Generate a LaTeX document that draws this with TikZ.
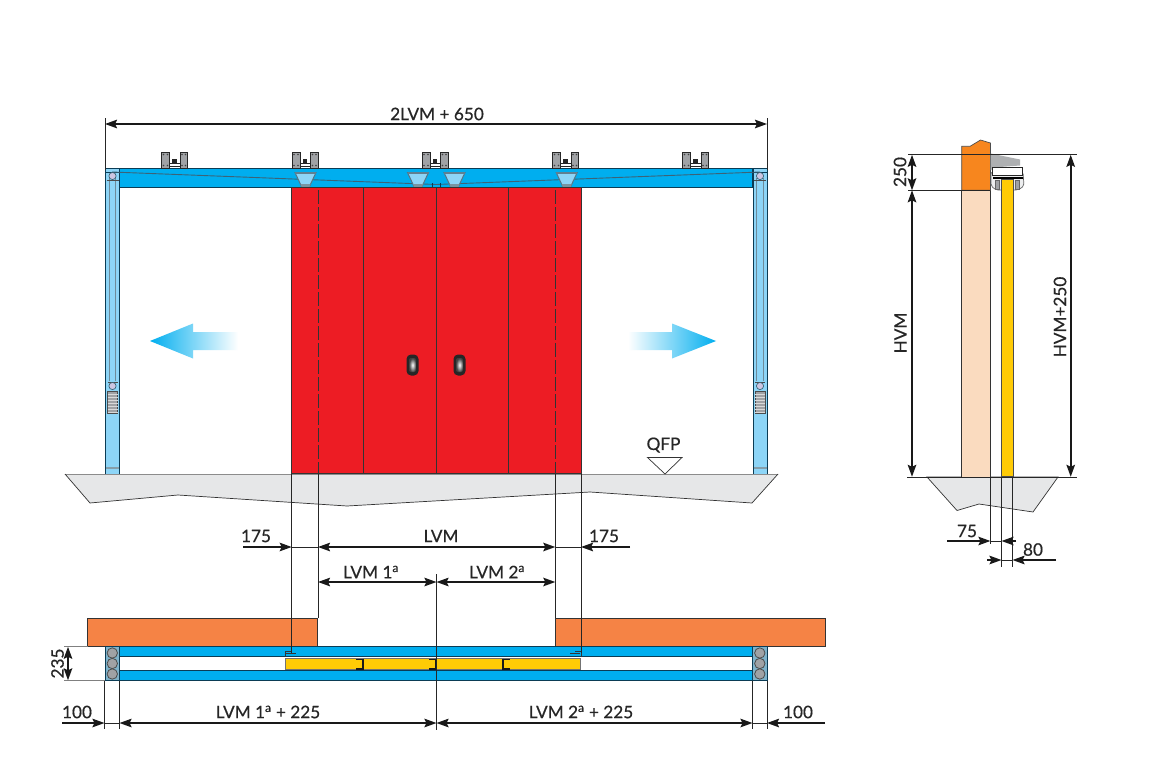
\documentclass[tikz,border=0pt]{standalone}
\usepackage{fontspec}
\setmainfont{Lato}[RawFeature={embolden=0.5}]
\usetikzlibrary{arrows.meta}
\definecolor{trackblue}{HTML}{00AEEF}
\definecolor{postblue}{HTML}{8DD5F7}
\definecolor{doorred}{HTML}{ED1C24}
\definecolor{wallorange}{HTML}{F58345}
\definecolor{topwall}{HTML}{F7861E}
\definecolor{wallpale}{HTML}{FADBBF}
\definecolor{doorgold}{HTML}{FFCB05}
\definecolor{floorgrey}{HTML}{E6E7E8}
\definecolor{partgrey}{HTML}{A0A2A5}
\definecolor{inkblue}{HTML}{0B3C55}
\definecolor{wheel}{HTML}{CDC6E2}
\tikzset{
  outline/.style={draw=inkblue,line width=0.9pt},
  extline/.style={draw=black!85,line width=0.9pt},
  dimboth/.style={draw=black!90,line width=1.9pt,{Stealth[length=12pt,width=8.5pt,inset=2pt]}-{Stealth[length=12pt,width=8.5pt,inset=2pt]}},
  dimone/.style={draw=black!90,line width=1.9pt,-{Stealth[length=12pt,width=8.5pt,inset=2pt]}},
  lab/.style={font=\fontsize{17.2}{19}\selectfont,text=black!85,inner sep=0pt,anchor=center},
}
\newcommand{\carriage}[1]{%
  \begin{scope}[shift={(#1,0)}]
    \fill[partgrey,draw=black!85,line width=0.8pt] (0.3,152.5) rectangle (8,168);
    \fill[partgrey,draw=black!85,line width=0.8pt] (18.5,152.5) rectangle (26,168);
    \foreach \dx/\dy in {2/154.5,6/154.5,2/165.5,6/165.5,20.5/154.5,24/154.5,20.5/165.5,24/165.5}{\fill[black!75] (\dx,\dy) circle[radius=0.8pt];}
    \fill[black!85] (10.8,158.5) rectangle (15,163);
    \draw[black!85,line width=0.9pt] (8,163.5) -- (18.5,163.5) (8,166.5) -- (18.5,166.5);
  \end{scope}}
\newcommand{\hanger}[1]{%
  \fill[postblue,draw=inkblue!70,line width=1pt] (#1-10.5,172.5) -- (#1+10.5,172.5) -- (#1+4,186.5) -- (#1-4,186.5) -- cycle;
  \fill[inkblue!65] (#1-10.5,172) rectangle (#1+10.5,174);
  \fill[inkblue!55] (#1-5,184) -- (#1+5,184) -- (#1+4,187) -- (#1-4,187) -- cycle;}
\newcommand{\post}[1]{%
  \begin{scope}[shift={(#1,0)}]
    \fill[postblue] (0,168.5) rectangle (14,474);
    \draw[inkblue!60,line width=1pt] (3.9,178) -- (3.9,381) (10.2,178) -- (10.2,381);
    \draw[inkblue,line width=0.9pt] (0,168.5) -- (0,474) (14,168.5) -- (14,474) (0,168.5) -- (14,168.5) (0,172) -- (14,172);
    \draw[black!70,line width=0.7pt] (1,180.5) -- (13,180.5) (2,382) -- (12,382);
    \fill[wheel,draw=inkblue!80,line width=0.7pt] (7,176) circle[radius=3.6pt];
    \fill[wheel,draw=inkblue!80,line width=0.7pt] (7,386) circle[radius=3.6pt];
    \fill[partgrey,draw=black!70,line width=0.5pt] (2,391) rectangle (12,413.5);
    \foreach \s in {394,397,400,403,406,409,412}{\draw[white!85!black,line width=0.8pt] (2,\s) -- (12,\s);}
    \fill[inkblue!50] (0.5,467) rectangle (13.5,469);
  \end{scope}}
\newcommand{\handle}[1]{%
  \fill[black!85,rounded corners=4.5pt] (#1-6,354.5) rectangle (#1+6,375.5);
  \shade[inner color=white,outer color=black!75,rounded corners=2pt] (#1-3.5,358) rectangle (#1+3.5,372);}
\newcommand{\rollerstack}[1]{%
  \begin{scope}[shift={(#1,0)}]
    \fill[postblue!80!black!90,draw=inkblue,line width=0.8pt] (0,646.5) rectangle (14.5,680.5);
    \foreach \c in {653,663.5,674}{\fill[partgrey,draw=black!70,line width=0.8pt] (7.3,\c) circle[radius=5.2pt];}
  \end{scope}}
\newcommand{\joint}[3]{%
  \fill[black!90] (#1,658.5) rectangle (#2,660.3);
  \fill[black!90] (#1,667.7) rectangle (#2,669.5);
  \draw[black!90,line width=1.1pt] (#3,658.5) -- (#3,669.5);}
\begin{document}
\begin{tikzpicture}[x=1pt,y=-1pt]
\useasboundingbox (0,0) rectangle (1153,768);
\fill[white] (0,0) rectangle (1153,768);

% floor, front view
\fill[floorgrey] (65,474) -- (90,503) -- (178,495) -- (347,506) -- (590,492) -- (752,503) -- (778,474) -- cycle;
\draw[black!45,line width=1pt] (65,474) -- (778,474);
\draw[black!80,line width=0.7pt] (65,474) -- (90,503) -- (178,495) -- (347,506) -- (590,492) -- (752,503) -- (778,474);

% posts and track
\post{105.5}
\post{753}
\fill[trackblue,draw=inkblue,line width=1pt] (119.5,168.5) rectangle (752.5,187.3);
\foreach \x in {161.5,292,422,552.5,682.5}{\carriage{\x}}
\draw[inkblue!80,line width=0.9pt] (112,172) -- (436,184.5) -- (760,172);
\foreach \x in {305.5,418,454.5,566.7}{\hanger{\x}}
\draw[inkblue,line width=0.6pt] (432,183) -- (432,187) (440,183) -- (440,187);

% door
\fill[doorred,draw=black!80,line width=0.9pt] (291.5,187.3) rectangle (581.5,473.5);
\draw[black!80,line width=0.9pt] (363.5,187.3) -- (363.5,473.5) (436.5,187.3) -- (436.5,473.5) (508.5,187.3) -- (508.5,473.5);
\draw[black!80,line width=0.9pt,dash pattern=on 14pt off 3pt] (318.5,190) -- (318.5,473.5) (555.5,190) -- (555.5,473.5);
\handle{412.5}
\handle{459.5}

% motion arrows
\shade[left color=trackblue,right color=white] (150,341) -- (193,323.5) -- (193,332) -- (238,332) -- (238,350) -- (193,350) -- (193,358.5) -- cycle;
\shade[right color=trackblue,left color=white] (716,341) -- (672,323.5) -- (672,332) -- (628,332) -- (628,350) -- (672,350) -- (672,358.5) -- cycle;

% QFP
\node[lab] (qfp) at (663.5,445) {QFP};
\draw[fill=white,draw=black!80,line width=0.7pt] (647.5,457.5) -- (682,457.5) -- (665,474) -- cycle;

% overall width
\coordinate (owA) at (105,124);
\coordinate (owB) at (767,124);
\coordinate (owA0) at (105,118);
\coordinate (owA1) at (105,170);
\coordinate (owB0) at (767,118);
\coordinate (owB1) at (767,170);
\draw[extline] (owA0) -- (owA1);
\draw[extline] (owB0) -- (owB1);
\draw[dimboth] (owA) -- (owB);
\node[lab] (owtext) at (437,114) {2LVM + 650};

% plan: walls and bars
\fill[wallorange,draw=black!80,line width=0.8pt] (87,618) rectangle (317.7,646.5);
\fill[wallorange,draw=black!80,line width=0.8pt] (555.3,618) rectangle (825,646.5);
\fill[trackblue,draw=inkblue,line width=0.9pt] (119.5,646.5) rectangle (752.5,656.5);
\fill[trackblue,draw=inkblue,line width=0.9pt] (119.5,670.5) rectangle (752.5,680.5);
\fill[doorgold,draw=black!55,line width=0.6pt] (285.5,658.5) rectangle (580.5,669.5);
\joint{356}{363.5}{363}
\joint{428.5}{436}{435.5}
\joint{502.5}{510}{503}
\rollerstack{105}
\rollerstack{752.5}
\draw[black!80,line width=0.7pt] (285.5,656.5) -- (285.5,651) -- (291.7,651) (286,653.5) -- (296,653.5);
\draw[black!80,line width=0.7pt] (581,656.5) -- (581,651) -- (575,651) (570,653.5) -- (580,653.5);

% projection lines, front view to plan
\coordinate (pa0) at (291.7,474); \coordinate (pa1) at (291.7,653);
\coordinate (pb0) at (318,474);   \coordinate (pb1) at (318,618);
\coordinate (pc0) at (555.3,474); \coordinate (pc1) at (555.3,618);
\coordinate (pd0) at (581,474);   \coordinate (pd1) at (581,653);
\coordinate (pe0) at (436.5,574); \coordinate (pe1) at (436.5,730);
\draw[extline] (pa0) -- (pa1);
\draw[extline] (pb0) -- (pb1);
\draw[extline] (pc0) -- (pc1);
\draw[extline] (pd0) -- (pd1);
\draw[extline] (pe0) -- (pe1);

% upper dimensions
\coordinate (d175a) at (243,547); \coordinate (d175b) at (291.7,547);
\coordinate (dlvma) at (318,547); \coordinate (dlvmb) at (555.3,547);
\coordinate (d175c) at (630,547); \coordinate (d175d) at (581,547);
\draw[dimone] (d175a) -- (d175b);
\draw[dimboth] (dlvma) -- (dlvmb);
\draw[dimone] (d175c) -- (d175d);
\draw[extline] (d175b) -- (dlvma) (dlvmb) -- (d175d);
\node[lab] (t175a) at (256,536) {175};
\node[lab] (tlvm) at (441,536) {LVM};
\node[lab] (t175b) at (604,536) {175};
\coordinate (dl1a) at (318,582); \coordinate (dl1b) at (436.5,582); \coordinate (dl2b) at (555.3,582);
\draw[dimboth] (dl1a) -- (dl1b);
\draw[dimboth] (dl1b) -- (dl2b);
\node[lab] (tl1) at (371,572) {LVM 1\textsuperscript{a}};
\node[lab] (tl2) at (497,572) {LVM 2\textsuperscript{a}};

% 235
\coordinate (h235a) at (68,646.8); \coordinate (h235b) at (68,680.3);
\coordinate (g1) at (64,646.8); \coordinate (g1e) at (88,646.8);
\coordinate (g2) at (64,680.5); \coordinate (g2e) at (105,680.5);
\draw[black!50,line width=1pt] (g1) -- (g1e);
\draw[black!50,line width=1pt] (g2) -- (g2e);
\draw[dimboth] (h235a) -- (h235b);
\node[lab,rotate=90] (t235) at (57.5,663.5) {235};

% lower dimensions
\coordinate (q1) at (62,723);  \coordinate (q2) at (104.5,723);
\coordinate (q3) at (119.5,723); \coordinate (q4) at (436.5,723);
\coordinate (q5) at (752.5,723); \coordinate (q6) at (767,723);
\coordinate (q7) at (825,723);
\coordinate (q2t) at (104.5,680.5); \coordinate (q2b) at (104.5,729);
\coordinate (q3t) at (119.5,680.5); \coordinate (q3b) at (119.5,729);
\coordinate (q5t) at (752.5,680.5); \coordinate (q5b) at (752.5,729);
\coordinate (q6t) at (767,680.5); \coordinate (q6b) at (767,729);
\draw[extline] (q2t) -- (q2b);
\draw[extline] (q3t) -- (q3b);
\draw[extline] (q5t) -- (q5b);
\draw[extline] (q6t) -- (q6b);
\draw[dimone] (q1) -- (q2);
\draw[dimboth] (q3) -- (q4);
\draw[dimboth] (q4) -- (q5);
\draw[dimone] (q7) -- (q6);
\draw[extline] (q2) -- (q3) (q5) -- (q6);
\node[lab] (t100a) at (77,712) {100};
\node[lab] (tq1) at (268,712) {LVM 1\textsuperscript{a} + 225};
\node[lab] (tq2) at (581,712) {LVM 2\textsuperscript{a} + 225};
\node[lab] (t100b) at (798,712) {100};

% side view
\fill[floorgrey,draw=black!80,line width=0.7pt] (927,477) -- (957,510.5) -- (979,504) -- (1033,512) -- (1058,477) -- cycle;
\fill[wallpale,draw=black!80,line width=0.8pt] (961.7,190.3) rectangle (990.4,477);
\fill[topwall,draw=black!70,line width=0.7pt] (961.7,190.3) -- (961.7,146.3) -- (970,146.3) -- (980.5,140) -- (990.4,143) -- (990.4,190.3) -- cycle;
\fill[partgrey!85!white] (990.7,153.5) -- (1020,159.5) -- (1020,165.5) -- (1000,167) -- (990.7,170) -- cycle;
\fill[floorgrey!70!white,draw=black!60,line width=0.7pt,rounded corners=2pt] (991,172) -- (1023,172) -- (1024,186) -- (1018,190) -- (996,190) -- (991,186) -- cycle;
\fill[white,draw=black!85,line width=0.9pt] (992,167.5) rectangle (1022.5,175);
\draw[black,line width=2pt] (993,178) -- (1023,178);
\fill[doorgold,draw=black!70,line width=0.6pt] (1001.7,179) rectangle (1013.3,476);
\fill[partgrey,draw=black!60,line width=0.5pt] (995,180) rectangle (999,189);
\fill[partgrey,draw=black!60,line width=0.5pt] (1015,180) rectangle (1019,189);

\coordinate (s1a) at (908,154.5); \coordinate (s1b) at (1077,154.5);
\coordinate (s2a) at (908,190.5); \coordinate (s2b) at (990.4,190.5);
\coordinate (s3a) at (907,477);   \coordinate (s3b) at (1077,477);
\coordinate (sd1) at (912,154.8); \coordinate (sd2) at (912,190.3); \coordinate (sd3) at (912,476.8);
\coordinate (sd4) at (1070.7,154.8); \coordinate (sd5) at (1070.7,476.8);
\draw[extline] (s1a) -- (s1b);
\draw[extline] (s2a) -- (s2b);
\draw[extline] (s3a) -- (s3b);
\draw[dimboth] (sd1) -- (sd2);
\draw[dimboth] (sd2) -- (sd3);
\draw[dimboth] (sd4) -- (sd5);
\node[lab,rotate=90] (t250) at (900,172) {250};
\node[lab,rotate=90] (thvm) at (900.5,333) {HVM};
\node[lab,rotate=90] (thvm2) at (1060,317) {HVM+250};

\coordinate (v1a) at (990.4,477); \coordinate (v1b) at (990.4,544);
\coordinate (v2a) at (1001.5,477); \coordinate (v2b) at (1001.5,567);
\coordinate (v3a) at (1012.5,477); \coordinate (v3b) at (1012.5,567);
\draw[extline] (v1a) -- (v1b);
\draw[extline] (v2a) -- (v2b);
\draw[extline] (v3a) -- (v3b);
\coordinate (a1) at (947,541); \coordinate (a2) at (990.4,541);
\coordinate (a3) at (1016,541); \coordinate (a4) at (1001.5,541);
\coordinate (b1) at (987,560); \coordinate (b2) at (1001.5,560);
\coordinate (b3) at (1056,560); \coordinate (b4) at (1012.5,560);
\draw[dimone] (a1) -- (a2);
\draw[dimone] (a3) -- (a4);
\draw[extline] (a2) -- (a4);
\draw[dimone] (b1) -- (b2);
\draw[dimone] (b3) -- (b4);
\draw[extline] (b2) -- (b4);
\node[lab] (t75) at (967,531) {75};
\node[lab] (t80) at (1033,549.5) {80};
\end{tikzpicture}
\end{document}
